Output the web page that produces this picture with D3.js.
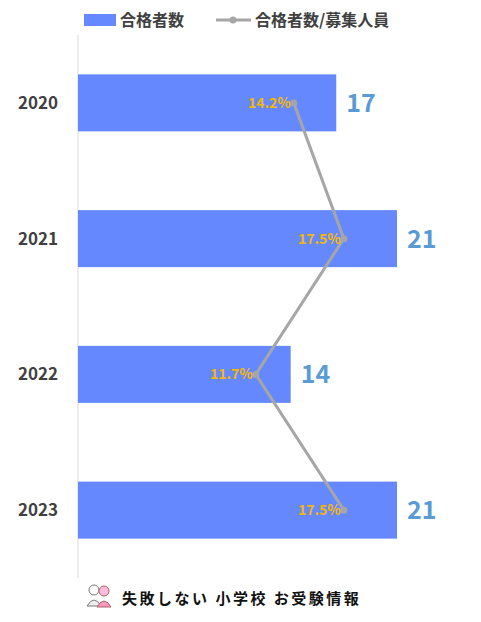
<!DOCTYPE html>
<html><head><meta charset="utf-8">
<script src="https://cdn.jsdelivr.net/npm/d3@7"></script>
<style>body{margin:0;background:#fff}</style></head>
<body><svg id="c" width="481" height="622"></svg>
<script>
const years=["2020","2021","2022","2023"];
const counts=[17,21,14,21];
const ratios=[14.2,17.5,11.7,17.5];
const ratioLabels=["14.2%","17.5%","11.7%","17.5%"];
const svg=d3.select("#c");
const F="'Noto Sans CJK JP','Noto Sans',sans-serif";
const x=d3.scaleLinear().domain([0,21]).range([78,397]);
const y=d3.scaleBand().domain(years).range([35,578]).paddingInner(0.58).paddingOuter(0.29);
svg.append("line").attr("x1",78).attr("x2",78).attr("y1",35).attr("y2",578).attr("stroke","#d9d9d9");
svg.selectAll(".bar").data(years).join("rect").attr("x",x(0)).attr("y",d=>y(d))
 .attr("width",(d,i)=>x(counts[i])-x(0)).attr("height",y.bandwidth()).attr("fill","#6688FF");
svg.selectAll(".yl").data(years).join("text").attr("x",58).attr("y",d=>y(d)+y.bandwidth()/2+6)
 .attr("text-anchor","end").attr("font-family",F).attr("font-weight","bold").attr("font-size",17).attr("fill","#404040").text(d=>d);
svg.selectAll(".vl").data(years).join("text").attr("x",(d,i)=>x(counts[i])+10).attr("y",d=>y(d)+y.bandwidth()/2+9)
 .attr("font-family",F).attr("font-weight","bold").attr("font-size",25).attr("fill","#5B9BD5").text((d,i)=>counts[i]);
const line=d3.line().x(d=>x(d[1])).y(d=>y(d[0])+y.bandwidth()/2);
const pts=years.map((d,i)=>[d,ratios[i]]);
svg.append("path").attr("d",line(pts)).attr("fill","none").attr("stroke","#A6A6A6").attr("stroke-width",3);
svg.selectAll(".pt").data(pts).join("circle").attr("cx",d=>x(d[1])).attr("cy",d=>y(d[0])+y.bandwidth()/2).attr("r",3.5).attr("fill","#A6A6A6");
svg.selectAll(".pl").data(pts).join("text").attr("x",d=>x(d[1])-3).attr("y",d=>y(d[0])+y.bandwidth()/2+5)
 .attr("text-anchor","end").attr("font-family",F).attr("font-weight","bold").attr("font-size",14).attr("fill","#F5B800").text((d,i)=>ratioLabels[i]);
// legend
svg.append("rect").attr("x",84).attr("y",14).attr("width",32).attr("height",12).attr("fill","#6688FF");
svg.append("text").attr("x",120).attr("y",26).attr("font-family",F).attr("font-weight","bold").attr("font-size",16).attr("fill","#404040").text("合格者数");
svg.append("line").attr("x1",216).attr("x2",251).attr("y1",20).attr("y2",20).attr("stroke","#A6A6A6").attr("stroke-width",3);
svg.append("circle").attr("cx",233).attr("cy",20).attr("r",3.5).attr("fill","#A6A6A6");
svg.append("text").attr("x",255).attr("y",26).attr("font-family",F).attr("font-weight","bold").attr("font-size",16).attr("fill","#404040").text("合格者数/募集人員");
// footer
const ic=svg.append("g");
ic.append("circle").attr("cx",94).attr("cy",590).attr("r",5).attr("fill","#fff").attr("stroke","#777");
ic.append("path").attr("d","M87,606 Q94,594 101,606 Z").attr("fill","#eee").attr("stroke","#777");
ic.append("circle").attr("cx",104).attr("cy",591).attr("r",5).attr("fill","#fbd").attr("stroke","#a66");
ic.append("path").attr("d","M97,607 Q104,595 111,607 Z").attr("fill","#f9b").attr("stroke","#a66");
svg.append("text").attr("x",122).attr("y",604).attr("font-family",F).attr("font-weight","bold").attr("font-size",15).attr("letter-spacing",2.5).attr("fill","#111").text("失敗しない 小学校 お受験情報");
</script></body></html>
